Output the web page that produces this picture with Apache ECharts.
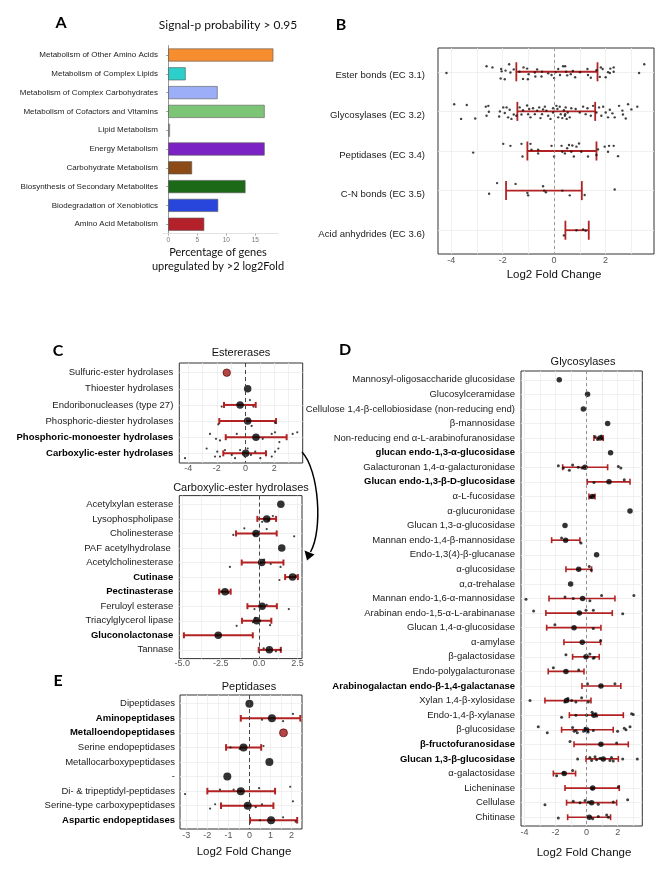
<!DOCTYPE html>
<html><head><meta charset="utf-8">
<script src="https://cdn.jsdelivr.net/npm/echarts@6/dist/echarts.min.js"></script>
<style>html,body{margin:0;padding:0;background:#fff}#c{width:670px;height:875px}</style>
</head><body><div id="c"></div>
<script>
const FONT = '"Liberation Sans", Arial, sans-serif';
const FONT2 = 'Lato, "Liberation Sans", sans-serif';

// ---------- Panel A ----------
const aCategories = ['Metabolism of Other Amino Acids','Metabolism of Complex Lipids','Metabolism of Complex Carbohydrates','Metabolism of Cofactors and Vitamins','Lipid Metabolism','Energy Metabolism','Carbohydrate Metabolism','Biosynthesis of Secondary Metabolites','Biodegradation of Xenobiotics','Amino Acid Metabolism'];
const aValues = [18.1, 3.0, 8.5, 16.6, 0.3, 16.6, 4.1, 13.3, 8.6, 6.2];
const aPalette = ['#F68D2E','#2DCFCB','#9BAEF7','#7CC576','#BBBBBB','#7B22C4','#8B4A16','#1C6A18','#2846DC','#B5212B'];
const aTicks = [0, 5, 10, 15];

// ---------- Panel B ----------
const bCategories = ['Ester bonds (EC 3.1)','Glycosylases (EC 3.2)','Peptidases (EC 3.4)','C-N bonds (EC 3.5)','Acid anhydrides (EC 3.6)'];
const bLow = [-1.47, -1.43, -1.04, -1.87, 0.44];
const bHigh = [1.69, 1.60, 1.65, 1.08, 1.35];
const bTicks = [-4, -2, 0, 2];
// [log2FC, vertical jitter]
const bEsterPts = [[-4.19,0.03],[-2.63,-0.14],[-2.40,-0.11],[-2.06,-0.07],[-2.04,-0.01],[-1.89,-0.03],[-2.08,0.17],[-1.92,0.19],[-1.75,-0.19],[-1.70,0.02],[-1.57,-0.06],[-1.35,0],[-1.19,-0.11],[-1.05,-0.08],[-1.02,0.19],[-1.21,0.18],[-0.99,0.06],[-0.75,0.02],[-0.73,0.12],[-0.66,-0.06],[-0.49,0.12],[-0.47,0],[-0.23,0.04],[-0.10,0.08],[0,0.16],[0.05,0.01],[0.16,-0.07],[0.23,0.08],[0.35,-0.14],[0.43,-0.14],[0.47,0],[0.51,0.09],[0.65,0.06],[0.73,-0.02],[0.82,0.14],[1.01,0.01],[1.30,-0.07],[1.32,0.08],[1.43,0.15],[1.65,-0.04],[1.78,0.13],[1.82,-0.11],[1.89,-0.07],[2.10,0.01],[2.19,-0.08],[2.17,0.03],[2.32,-0.11],[2.32,0],[2.01,0.14],[3.31,0.03],[3.51,-0.19]];
const bGlycoPts = [[-3.89,-0.18],[-3.40,-0.16],[-3.62,0.19],[-3.07,0.18],[-2.66,-0.12],[-2.56,-0.14],[-2.54,0.01],[-2.63,0.11],[-2.11,0],[-2.14,0.13],[-1.98,-0.10],[-1.92,0.04],[-1.79,0.15],[-1.73,-0.04],[-1.66,0.19],[-1.57,0.08],[-1.34,-0.10],[-1.27,0.08],[-1.21,-0.03],[-1.05,-0.15],[-1.01,0.07],[-0.92,0.15],[-0.82,-0.08],[-0.75,0.07],[-0.66,-0.02],[-0.58,-0.10],[-0.53,0.17],[-0.47,0.07],[-0.36,-0.12],[-0.30,-0.02],[-0.23,0.11],[-0.14,0.19],[-0.04,0.03],[0.09,-0.14],[0.13,-0.06],[0.16,0.15],[0.22,-0.12],[0.26,0.07],[0.32,0.17],[0.38,-0.03],[0.42,0.11],[0.45,-0.10],[0.49,0.19],[0.53,0.03],[0.61,0.15],[0.67,-0.08],[0.84,-0.06],[1.00,0.03],[1.13,-0.12],[1.23,0.07],[1.30,-0.08],[1.43,0.11],[1.52,-0.14],[1.65,0.03],[1.75,-0.10],[1.84,0.11],[1.91,-0.12],[2.01,0.03],[2.10,0.15],[2.17,-0.04],[2.27,0.05],[2.36,0.15],[2.53,-0.14],[2.66,-0.02],[2.79,0.18],[2.88,-0.18],[3.01,-0.05],[3.24,-0.12],[2.68,0.08],[-0.97,-0.06],[-0.43,-0.05],[-0.04,-0.08],[0.43,0.07],[-1.85,-0.10],[-1.47,0.11]];
const bPeptPts = [[-3.15,0.04],[-1.98,-0.18],[-1.70,-0.13],[-1.27,-0.18],[-1.23,0.14],[-0.92,-0.18],[-0.88,-0.03],[-0.62,0.06],[-0.62,-0.03],[-0.10,-0.13],[0,0.14],[0.29,-0.13],[0.32,0.02],[0.42,0.06],[0.51,-0.07],[0.58,-0.15],[0.67,0.02],[0.71,-0.14],[0.77,0.14],[0.87,-0.11],[0.97,-0.19],[1.06,0.02],[1.32,0.14],[1.65,0.10],[1.97,-0.11],[2.14,-0.13],[2.10,0.02],[2.32,-0.13],[2.49,0.13],[1.71,-0.04]];
const bCNPts = [[-2.22,-0.19],[-2.53,0.08],[-1.50,-0.17],[-1.04,0.06],[-1.01,0.12],[-0.43,-0.11],[-0.39,0],[-0.32,0.04],[0.61,0.12],[1.19,0.11],[2.36,-0.03],[0.32,0]];
const bAcidPts = [[0.38,0.13],[0.87,0],[1.13,-0.02],[1.23,0.01]];

// ---------- Panel C (Estererases) ----------
const cTopCategories = ['Sulfuric-ester hydrolases','Thioester hydrolases','Endoribonucleases (type 27)','Phosphoric-diester hydrolases','Phosphoric-monoester hydrolases','Carboxylic-ester hydrolases'];
const cTopBold = ['Phosphoric-monoester hydrolases','Carboxylic-ester hydrolases'];
const cTopRed = ['Sulfuric-ester hydrolases'];
const cTopMean = [-1.31, 0.15, -0.38, 0.15, 0.73, 0.01];
const cTopLow = [null, null, -1.5, -1.83, -1.38, -1.55];
const cTopHigh = [null, null, 0.71, 2.13, 2.87, 1.43];
const cTopTicks = [-4, -2, 0, 2];
// [log2FC, row, jitter]
const cTopPts = [[-1.66,3,0.1],[0.31,3,-0.3],[-0.5,3,0],[0.55,3,0.1],
 [-1.9,4,0.2],[0.43,4,0.3],[2.06,4,0.1],
 [-2.48,5,-0.2],[-2.06,5,0.1],[-1.78,5,0.2],[-0.61,5,-0.2],[1.83,5,-0.2],[2.06,5,-0.3],[2.36,5,0.3],[3.29,5,-0.2],[3.61,5,-0.3],[1.2,5,0.1],
 [-4.22,6,0.3],[-2.71,6,-0.3],[-2.13,6,0.2],[-1.97,6,-0.1],[-1.78,6,0.2],[-1.43,6,-0.2],[-0.96,6,0.1],[-0.73,6,0.3],[-0.38,6,-0.2],[-0.03,6,0.2],[0.15,6,-0.3],[0.38,6,0.1],[0.68,6,-0.1],[1.03,6,0.3],[1.83,6,0.2],[2.06,6,-0.1],[2.29,6,-0.3]];

// ---------- Panel C (Carboxylic-ester hydrolases) ----------
const cBotCategories = ['Acetylxylan esterase','Lysophospholipase','Cholinesterase','PAF acetylhydrolase ','Acetylcholinesterase','Cutinase','Pectinasterase','Feruloyl esterase','Triacylglycerol lipase','Gluconolactonase','Tannase'];
const cBotBold = ['Cutinase','Pectinasterase','Gluconolactonase'];
const cBotMean = [1.42, 0.5, -0.2, 1.48, 0.17, 2.18, -2.22, 0.2, -0.15, -2.66, 0.67];
const cBotLow = [null, -0.11, -1.5, null, -1.13, 1.7, -2.6, -0.76, -1.11, -4.9, -0.02];
const cBotHigh = [null, 1.11, 1.15, null, 1.59, 2.53, -1.85, 1.16, 0.8, -0.41, 1.42];
const cBotTicks = [-5, -2.5, 0, 2.5];
const cBotPts = [[0.2,2,0.2],[0.9,2,-0.2],[0.6,2,0.1],
 [-1.68,3,0.1],[-0.96,3,-0.35],[0.5,3,-0.3],[2.29,3,0.2],[-0.3,3,0.1],
 [-1.9,5,0.3],[0.33,5,-0.2],[0.76,5,0.1],[1.4,5,0.3],[0.1,5,0],
 [1.33,6,0.2],[2.0,6,0],[2.4,6,-0.1],
 [-2.45,7,0],[-2.0,7,0.1],
 [-0.3,8,0.2],[0.5,8,-0.1],[1.94,8,0.2],[0.1,8,0],
 [-1.46,9,0.35],[-0.25,9,-0.2],[0.08,9,0],[0.72,9,0.3],[-0.4,9,0.1],
 [1.1,11,0.1],[0.3,11,-0.1],[1.4,11,0]];

// ---------- Panel D (Glycosylases) ----------
const dCategories = ['Mannosyl-oligosaccharide glucosidase','Glucosylceramidase','Cellulose 1,4-β-cellobiosidase (non-reducing end)','β-mannosidase','Non-reducing end α-L-arabinofuranosidase','glucan endo-1,3-α-glucosidase','Galacturonan 1,4-α-galacturonidase','Glucan endo-1,3-β-D-glucosidase','α-L-fucosidase','α-glucuronidase','Glucan 1,3-α-glucosidase','Mannan endo-1,4-β-mannosidase','Endo-1,3(4)-β-glucanase','α-glucosidase','α,α-trehalase','Mannan endo-1,6-α-mannosidase','Arabinan endo-1,5-α-L-arabinanase','Glucan 1,4-α-glucosidase','α-amylase','β-galactosidase','Endo-polygalacturonase','Arabinogalactan endo-β-1,4-galactanase','Xylan 1,4-β-xylosidase','Endo-1,4-β-xylanase','β-glucosidase','β-fructofuranosidase','Glucan 1,3-β-glucosidase','α-galactosidase','Licheninase','Cellulase','Chitinase'];
const dBold = ['glucan endo-1,3-α-glucosidase','Glucan endo-1,3-β-D-glucosidase','Arabinogalactan endo-β-1,4-galactanase','β-fructofuranosidase','Glucan 1,3-β-glucosidase'];
const dMean = [-1.76,0.06,-0.21,1.35,0.86,1.54,-0.11,1.44,0.36,2.79,-1.39,-1.35,0.64,-0.51,-1.03,-0.26,-0.47,-0.81,-0.28,-0.04,-1.33,0.92,-1.29,0.47,0.0,0.92,1.07,-1.44,0.39,0.32,0.17];
const dLow = [null,null,null,null,0.47,null,-1.54,0.04,0.15,null,null,-2.25,null,-1.33,null,-2.42,-2.62,-2.57,-1.46,-0.9,-2.47,-0.3,-2.68,-1.11,-1.61,-0.81,-0.04,-2.14,-1.39,-1.29,-1.22];
const dHigh = [null,null,null,null,1.07,null,1.35,2.79,0.54,null,null,-0.43,null,0.32,null,1.82,1.65,0.92,0.9,0.81,-0.17,2.2,0.28,2.36,1.71,2.68,2.04,-0.71,2.1,1.93,1.54];
const dTicks = [-4, -2, 0, 2];
const dPts = [[0.55,5,-0.1],[0.7,5,0.1],[0.95,5,-0.15],[1.0,5,0.05],
 [-1.82,7,-0.1],[-1.5,7,0.05],[-1.11,7,0.2],[-0.9,7,-0.15],[-0.54,7,0],[-0.3,7,0.05],[2.04,7,-0.05],[2.2,7,0.05],
 [0.47,8,0.05],[2.42,8,-0.15],
 [0.25,9,0.05],[0.45,9,-0.05],
 [-1.61,12,-0.15],[-0.36,12,0.2],
 [0.17,14,-0.2],[0.3,14,0.05],
 [-3.9,16,0.05],[-1.39,16,-0.1],[-0.86,16,0],[0.21,16,0.15],[0.96,16,-0.2],[3.04,16,-0.2],
 [-3.41,17,-0.15],[-0.04,17,-0.2],[0.43,17,-0.2],[2.32,17,0.05],
 [-2.04,18,-0.2],[0.43,18,0.05],
 [0.9,19,-0.1],
 [-1.33,20,-0.15],[0.21,20,-0.2],[0.43,20,0.1],[0.49,20,0.05],
 [-2.14,21,-0.25],[-0.51,21,-0.1],
 [0.06,22,-0.15],[1.82,22,-0.15],
 [-3.64,23,0],[-1.4,23,0.1],[-1.2,23,-0.15],[-0.96,23,0],[-0.32,23,-0.2],[0.11,23,0.1],[-0.69,23,0.1],
 [-1.61,24,0.15],[-0.69,24,0],[0.0,24,0],[0.35,24,-0.2],[0.6,24,-0.1],[0.65,24,0.05],[2.89,24,-0.1],[3.0,24,-0.05],
 [-3.11,25,-0.2],[-2.53,25,0.2],[-0.9,25,-0.15],[-0.8,25,0.1],[-0.69,25,0.05],[-0.6,25,0.2],[-0.2,25,0.1],[-0.1,25,-0.1],[0.1,25,0.15],[0.43,25,0.05],[1.99,25,0.1],[2.42,25,-0.1],[2.53,25,0],[2.79,25,-0.2],
 [-1.07,26,-0.2],[1.93,26,-0.1],
 [-0.58,27,0],[0.21,27,-0.1],[0.32,27,0.1],[0.54,27,-0.15],[0.64,27,0.05],[0.86,27,-0.05],[1.5,27,0.1],[1.6,27,-0.1],[1.71,27,0.15],[2.32,27,0],[3.26,27,0],
 [-1.93,28,0.15],[-1.5,28,-0.05],[-0.9,28,-0.2],
 [0.35,29,0.05],[2.04,29,-0.1],
 [-2.68,30,0.15],[-0.86,30,-0.1],[-0.43,30,0],[-0.1,30,-0.15],[0.11,30,-0.05],[0.75,30,0.1],[1.71,30,-0.05],[2.64,30,-0.2],
 [-1.82,31,0.05],[0.39,31,0.1],[0.75,31,-0.05],[1.29,31,-0.15],[1.4,31,0]];

// ---------- Panel E (Peptidases) ----------
const eCategories = ['Dipeptidases','Aminopeptidases','Metalloendopeptidases','Serine endopeptidases','Metallocarboxypeptidases','-','Di- & tripeptidyl-peptidases','Serine-type carboxypeptidases','Aspartic endopeptidases'];
const eBold = ['Aminopeptidases','Metalloendopeptidases','Aspartic endopeptidases'];
const eRed = ['Metalloendopeptidases'];
const eMean = [0.0, 1.07, 1.62, -0.28, 0.95, -1.05, -0.41, -0.08, 1.03];
const eLow = [null, -0.41, null, -1.11, null, null, -2.0, -1.35, 0.03];
const eHigh = [null, 2.42, null, 0.56, null, null, 1.22, 1.14, 2.27];
const eTicks = [-3, -2, -1, 0, 1, 2];
const ePts = [[2.07,2,-0.3],[0.6,2,0.1],[1.6,2,0.2],
 [-0.46,4,0.1],[0.67,4,-0.1],[-0.9,4,0],
 [-3.06,7,0.2],[-0.75,7,-0.1],[-0.4,7,0],[0.46,7,-0.2],[1.94,7,-0.3],[-1.4,7,-0.1],
 [-1.87,8,0.2],[-1.63,8,-0.1],[0.6,8,-0.1],[0.3,8,0.1],[2.07,8,-0.3],[-0.1,8,0],
 [0.5,9,0],[1.6,9,-0.2],[2.2,9,0.1]];

// ================= build =================
const ERR = '#B22222';
const RED = '#A31515';
const grids = [], xAxes = [], yAxes = [], series = [];

// Panel A
grids.push({left:163, top:45.6, width:115, height:188});
xAxes.push({gridIndex:0, type:'value', min:-0.9, max:18.9,
  axisLine:{show:true, lineStyle:{color:'#e2e2e2', width:1}},
  axisTick:{show:true, length:2, customValues:aTicks, lineStyle:{color:'#aaa'}},
  axisLabel:{customValues:aTicks, fontSize:6.5, color:'#777', margin:3, fontFamily:FONT},
  splitLine:{show:false}});
yAxes.push({gridIndex:0, type:'category', data:aCategories, inverse:true,
  axisLine:{show:true, lineStyle:{color:'#999'}},
  axisTick:{show:true, length:2, alignWithLabel:true, lineStyle:{color:'#999'}},
  axisLabel:{fontSize:8, color:'#222', margin:5, fontFamily:FONT},
  splitLine:{show:false}});
series.push({type:'bar', xAxisIndex:0, yAxisIndex:0, barWidth:13, silent:true,
  data:aValues.map((v,i)=>({value:v, itemStyle:{color:aPalette[i], borderColor:'#555', borderWidth:0.6}}))});

function errRender(cap, lw){
  return function(params, api){
    const y = api.value(2);
    const p1 = api.coord([api.value(0), y]);
    const p2 = api.coord([api.value(1), y]);
    const st = {stroke: ERR, lineWidth: lw};
    return {type:'group', children:[
      {type:'line', shape:{x1:p1[0], y1:p1[1], x2:p2[0], y2:p2[1]}, style:st},
      {type:'line', shape:{x1:p1[0], y1:p1[1]-cap, x2:p1[0], y2:p1[1]+cap}, style:st},
      {type:'line', shape:{x1:p2[0], y1:p2[1]-cap, x2:p2[0], y2:p2[1]+cap}, style:st}
    ]};
  };
}

function forest(o){
  const gi = grids.length;
  grids.push(Object.assign({show:true, borderColor:'#333', borderWidth:1, backgroundColor:'#fff'}, o.box));
  const n = o.cats.length;
  const rows = o.cats.map((_, i) => i + 1);
  const xGrid = [];
  for (let v = Math.ceil(o.xMin); v <= Math.floor(o.xMax); v += (o.gridStep || 1)) xGrid.push(v);
  xAxes.push({gridIndex:gi, type:'value', min:o.xMin, max:o.xMax,
    axisLine:{show:false}, axisTick:{show:false, customValues:o.xGridVals || xGrid},
    axisLabel:{customValues:o.xTicks, formatter:o.xFmt || (v => String(v)), fontSize:9, color:'#555', margin:o.tickMargin, fontFamily:FONT},
    splitLine:{show:true, lineStyle:{color:'#ececec', width:0.8}}});
  yAxes.push({gridIndex:gi, type:'value', inverse:true, min:0.4, max:n + 0.6,
    axisLine:{show:false}, axisTick:{show:false, customValues:rows},
    axisLabel:{customValues:rows, margin:o.labelMargin, fontSize:o.labelSize, color:'#1a1a1a', fontFamily:FONT, padding:o.labelPad || 0,
      formatter: v => { const name = o.cats[Math.round(v) - 1]; return o.bold.includes(name) ? '{b|' + name + '}' : name; },
      rich:{b:{fontWeight:'bold', fontSize:o.labelSize, color:'#000', fontFamily:FONT}}},
    splitLine:{show:true, lineStyle:{color:'#ececec', width:0.8}}});
  const errData = [];
  o.low.forEach((lo, i) => { if (lo !== null) errData.push([lo, o.high[i], i + 1]); });
  series.push({type:'custom', xAxisIndex:gi, yAxisIndex:gi, silent:true, z:2,
    renderItem: errRender(o.capH, o.errW), encode:{x:[0, 1], y:2}, data:errData,
    markLine:{silent:true, symbol:'none', label:{show:false}, animation:false,
      lineStyle:{type:o.dash, color:o.dashColor, width:o.dashW}, data:[{xAxis:0}]}});
  series.push({type:'scatter', xAxisIndex:gi, yAxisIndex:gi, silent:true, z:3,
    symbolSize:o.ptSize, itemStyle:{color:'#111'},
    data:o.points.map(p => [p[0], p[1] + p[2]])});
  if (o.means) {
    series.push({type:'scatter', xAxisIndex:gi, yAxisIndex:gi, silent:true, z:4,
      symbolSize:o.meanSize,
      data:o.means.map((m, i) => ({value:[m, i + 1],
        itemStyle: (o.red || []).includes(o.cats[i]) ? {color:RED, borderColor:'#4a0000', borderWidth:0.8} : {color:'#000'}}))});
  }
}

// Panel B
forest({box:{left:438, top:48, width:216, height:206}, xMin:-4.52, xMax:3.89, xTicks:bTicks, tickMargin:2,
  cats:bCategories, bold:[], labelSize:9.6, labelMargin:13, labelPad:[8,0,0,0],
  low:bLow, high:bHigh, capH:9.5, errW:1.8, dash:[3,3], dashColor:'#888', dashW:0.8, ptSize:2.4,
  points:[].concat(
    bEsterPts.map(p => [p[0], 1, p[1]]), bGlycoPts.map(p => [p[0], 2, p[1]]),
    bPeptPts.map(p => [p[0], 3, p[1]]), bCNPts.map(p => [p[0], 4, p[1]]), bAcidPts.map(p => [p[0], 5, p[1]]))});

// Panel C top
forest({box:{left:179.3, top:363, width:123.4, height:100}, xMin:-4.62, xMax:3.99, xTicks:cTopTicks, tickMargin:1,
  cats:cTopCategories, bold:cTopBold, red:cTopRed, labelSize:9.5, labelMargin:6,
  means:cTopMean, low:cTopLow, high:cTopHigh, capH:3, errW:2, dash:[4,3], dashColor:'#444', dashW:1,
  ptSize:2.2, meanSize:7.5, points:cTopPts});

// Panel C bottom
forest({box:{left:179.3, top:495.6, width:122.7, height:163}, xMin:-5.2, xMax:2.8, xTicks:cBotTicks, tickMargin:0.5,
  xGridVals:[-5,-3.75,-2.5,-1.25,0,1.25,2.5], xFmt: v => v.toFixed(1),
  cats:cBotCategories, bold:cBotBold, labelSize:9.5, labelMargin:6,
  means:cBotMean, low:cBotLow, high:cBotHigh, capH:3, errW:2, dash:[4,3], dashColor:'#444', dashW:1,
  ptSize:2.2, meanSize:7.5, points:cBotPts});

// Panel D
forest({box:{left:521, top:371, width:121.3, height:455}, xMin:-4.22, xMax:3.58, xTicks:dTicks, tickMargin:2,
  cats:dCategories, bold:dBold, labelSize:9.5, labelMargin:6,
  means:dMean, low:dLow, high:dHigh, capH:3, errW:1.6, dash:[3,3], dashColor:'#777', dashW:0.8,
  ptSize:3, meanSize:5.5, points:dPts});

// Panel E
forest({box:{left:180, top:695, width:122, height:134}, xMin:-3.3, xMax:2.5, xTicks:eTicks, tickMargin:2,
  xGridVals:[-3,-2.5,-2,-1.5,-1,-0.5,0,0.5,1,1.5,2], 
  cats:eCategories, bold:eBold, red:eRed, labelSize:9.5, labelMargin:5,
  means:eMean, low:eLow, high:eHigh, capH:3.3, errW:2, dash:[4,3], dashColor:'#444', dashW:1,
  ptSize:2.2, meanSize:8, points:ePts});

function txt(text, x, y, size, opts){
  opts = opts || {};
  return {type:'text', x:x, y:y, silent:true, z:10,
    style:{text:text, fontSize:size, fontFamily:opts.font || FONT, fontWeight:opts.weight || 'normal',
      fill:opts.color || '#111', align:'center', textAlign:'center', verticalAlign:'middle', textVerticalAlign:'middle'}};
}

const graphics = [
  txt('A', 61, 23, 16, {weight:'bold', font:FONT2, color:'#000'}),
  txt('B', 341, 25, 16, {weight:'bold', font:FONT2, color:'#000'}),
  txt('C', 58, 351, 16, {weight:'bold', font:FONT2, color:'#000'}),
  txt('D', 345, 350, 16, {weight:'bold', font:FONT2, color:'#000'}),
  txt('E', 58, 681, 16, {weight:'bold', font:FONT2, color:'#000'}),
  txt('Signal-p probability > 0.95', 228, 25, 12, {font:FONT2}),
  txt('Percentage of genes', 218, 252, 11, {font:FONT2}),
  txt('upregulated by >2 log2Fold', 218, 266, 11, {font:FONT2}),
  txt('Log2 Fold Change', 554, 275, 11.5),
  txt('Estererases', 241, 353, 11),
  txt('Carboxylic-ester hydrolases', 241, 488, 11),
  txt('Glycosylases', 583, 362, 11),
  txt('Log2 Fold Change', 584, 853, 11.5),
  txt('Peptidases', 249, 687, 11),
  txt('Log2 Fold Change', 244, 852, 11.5),
  {type:'bezierCurve', silent:true, z:10,
    shape:{x1:302, y1:452, cpx1:319, cpy1:470, cpx2:323, cpy2:530, x2:310.5, y2:552},
    style:{stroke:'#000', lineWidth:1.5, fill:null}},
  {type:'polygon', silent:true, z:10,
    shape:{points:[[307, 560.5],[304.5, 550.5],[314.5, 554.5]]},
    style:{fill:'#000'}}
];

const chart = echarts.init(document.getElementById('c'), null, {renderer:'canvas', width:670, height:875});
chart.setOption({
  animation:false,
  backgroundColor:'#fff',
  grid:grids, xAxis:xAxes, yAxis:yAxes, series:series, graphic:graphics
});
</script></body></html>
